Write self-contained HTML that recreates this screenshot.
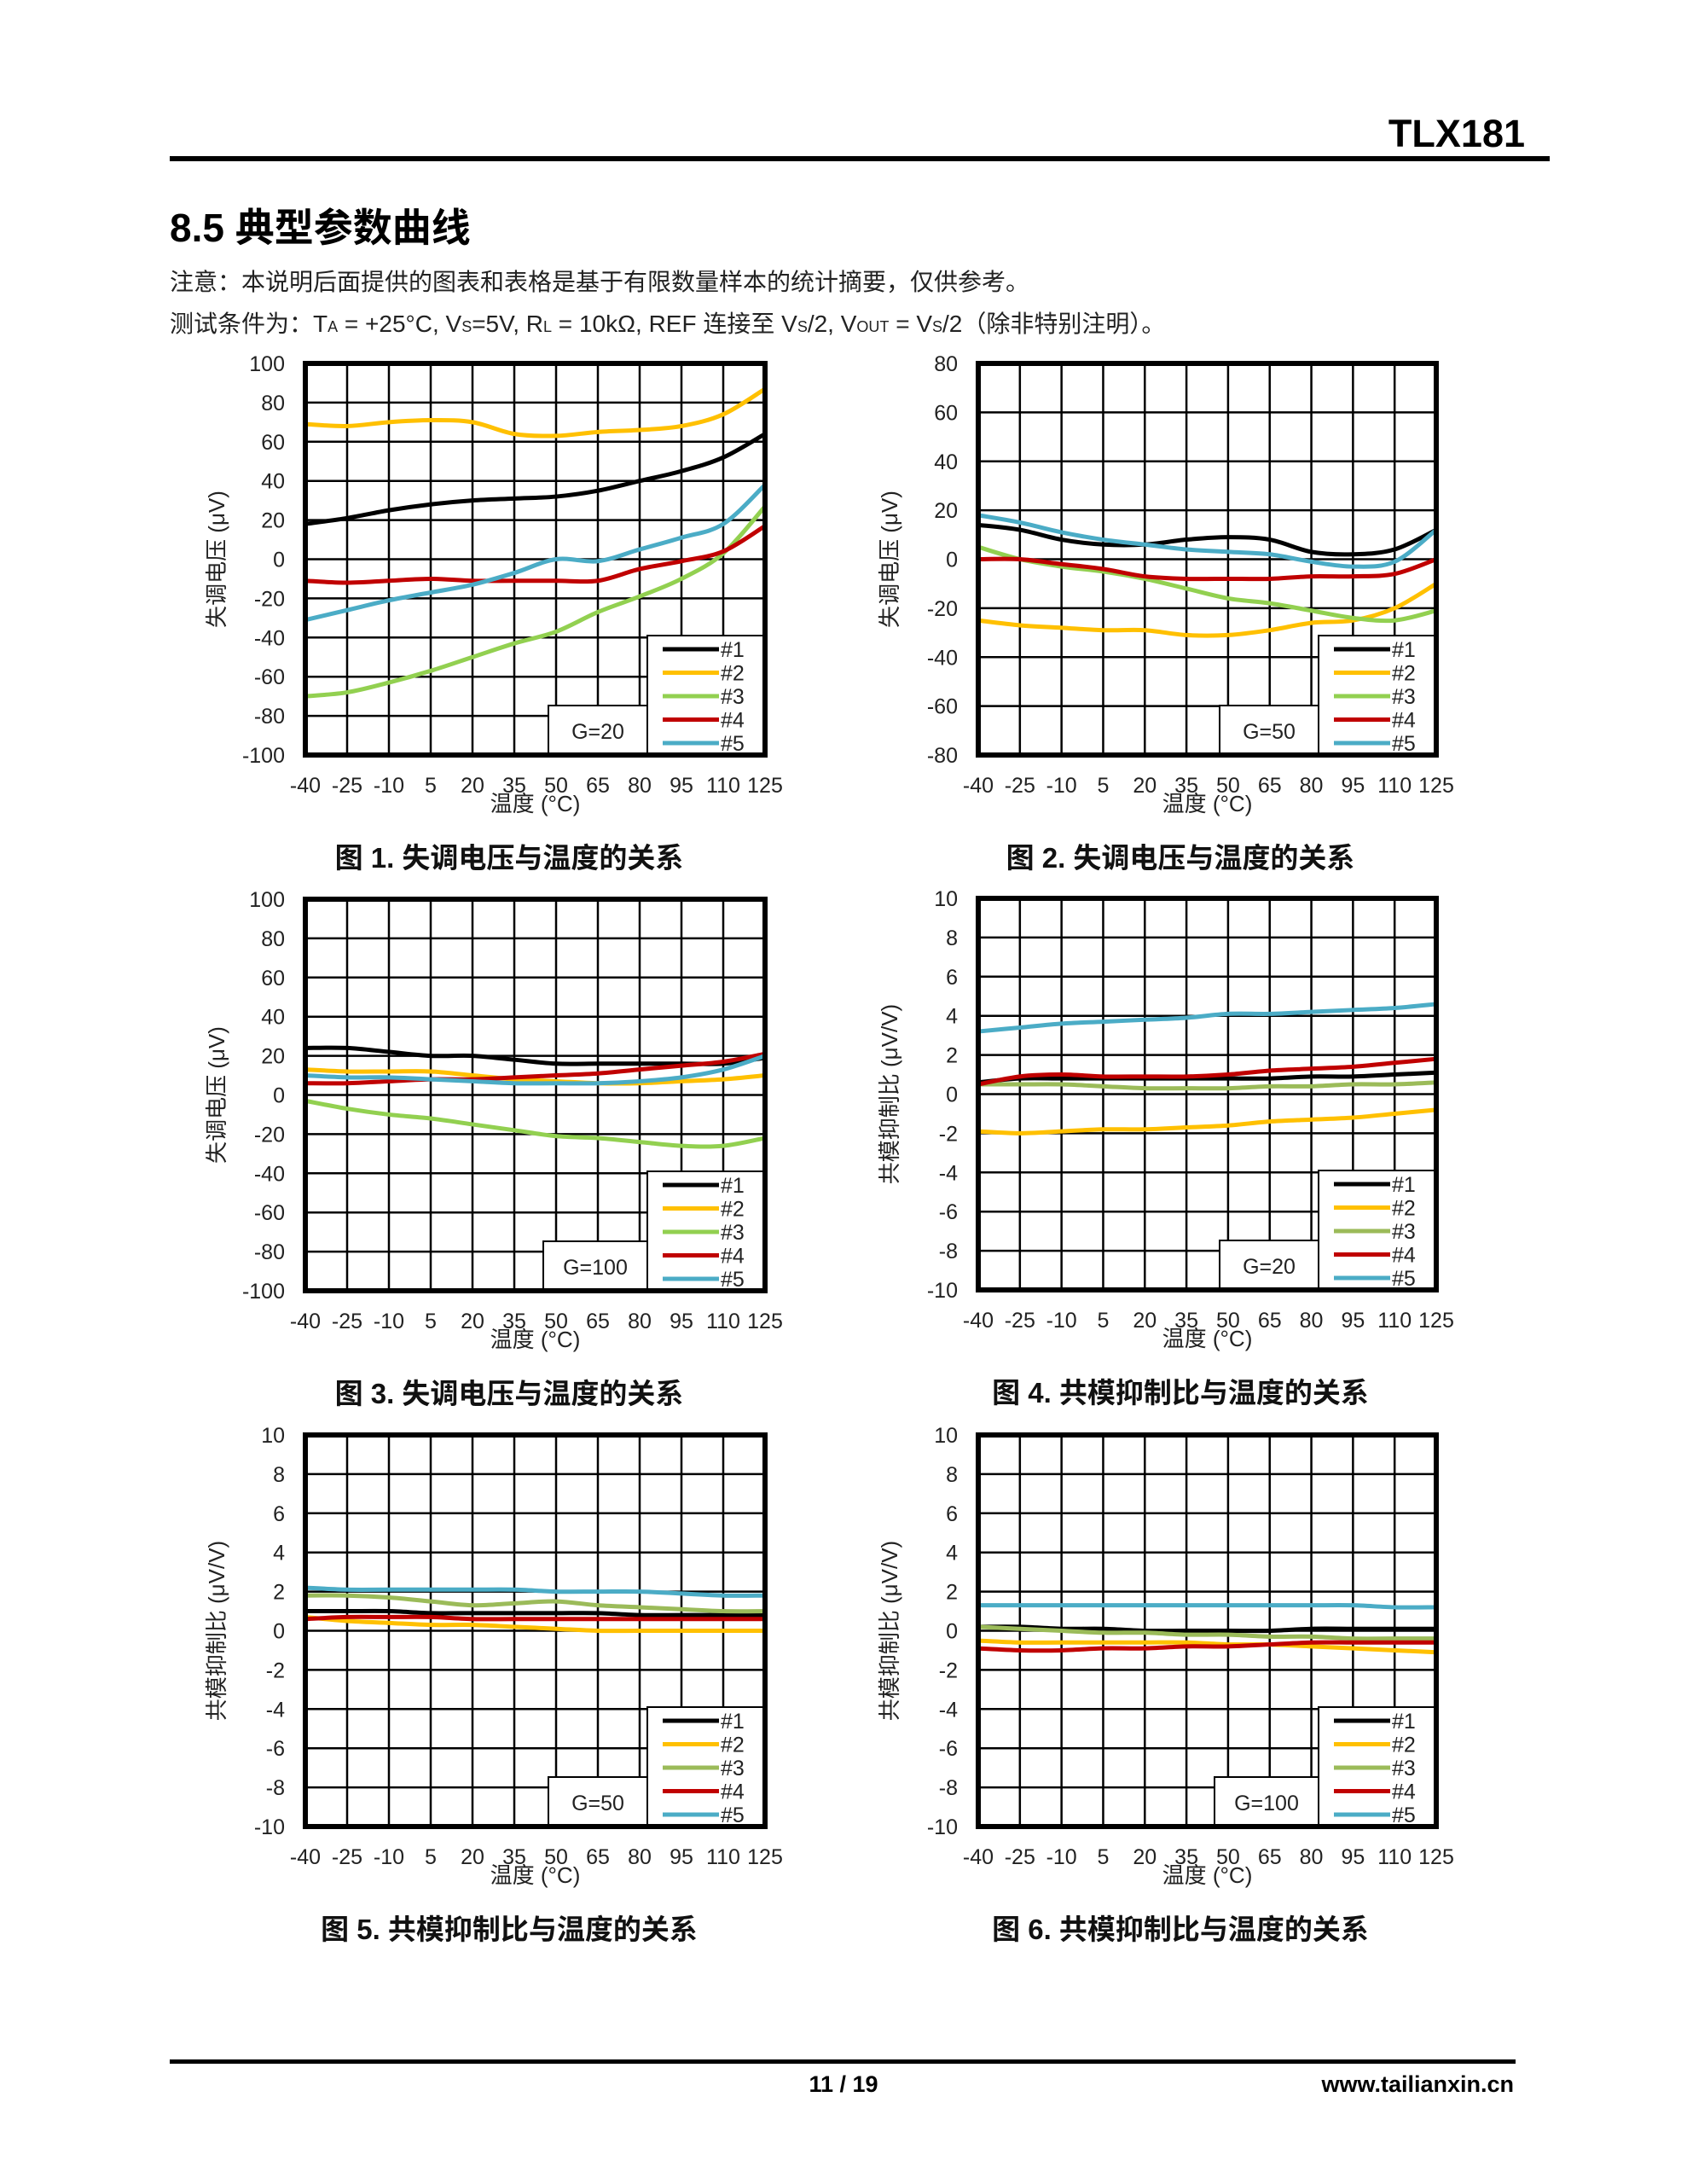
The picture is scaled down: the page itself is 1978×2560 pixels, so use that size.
<!DOCTYPE html>
<html><head><meta charset="utf-8">
<style>
html,body{margin:0;padding:0;background:#fff;}
body{width:1978px;height:2560px;overflow:hidden;position:relative;font-family:"Liberation Sans","Noto Sans CJK SC",sans-serif;}
</style></head>
<body>
<svg id="s" width="1978" height="2560" xmlns="http://www.w3.org/2000/svg" style="position:absolute;left:0;top:0;font-family:'Liberation Sans','Noto Sans CJK SC',sans-serif">
<text x="1788" y="172" text-anchor="end" font-size="45" font-weight="bold">TLX181</text>
<rect x="199" y="183" width="1618" height="6" fill="#000"/>
<text x="199" y="283" font-size="46" font-weight="bold">8.5 典型参数曲线</text>
<text x="199" y="340" font-size="28" fill="#222">注意：本说明后面提供的图表和表格是基于有限数量样本的统计摘要，仅供参考。</text>
<text x="199" y="389" font-size="28" fill="#222">测试条件为：T<tspan font-size="18">A</tspan> = +25°C, V<tspan font-size="18">S</tspan>=5V, R<tspan font-size="18">L</tspan> = 10kΩ, REF 连接至 V<tspan font-size="18">S</tspan>/2, V<tspan font-size="18">OUT</tspan> = V<tspan font-size="18">S</tspan>/2（除非特别注明）。</text>
<rect x="199" y="2414" width="1578" height="5" fill="#000"/>
<text x="989" y="2452" text-anchor="middle" font-size="27" font-weight="bold">11 / 19</text>
<text x="1775" y="2452" text-anchor="end" font-size="27" font-weight="bold">www.tailianxin.cn</text>
</svg>
<script>
var S=document.getElementById('s'),NS='http://www.w3.org/2000/svg';
function el(t,a,txt){var e=document.createElementNS(NS,t);for(var k in a)e.setAttribute(k,a[k]);if(txt!=null)e.textContent=txt;S.appendChild(e);return e;}
var C=['#000','#ffc000','#92d050','#c00000','#4bacc6'];
var C2=['#000','#ffc000','#9bbb59','#c00000','#4bacc6'];
var charts=[
{x:358,w:539,y:426,min:-100,max:100,st:20,g:'G=20',yt:'失调电压 (μV)',cap:'图 1. 失调电压与温度的关系',cx:597,col:C,d:[
[18,21,25,28,30,31,32,35,40,45,52,64],[69,68,70,71,70,64,63,65,66,68,74,87],[-70,-68,-63,-57,-50,-43,-37,-27,-19,-10,3,27],[-11,-12,-11,-10,-11,-11,-11,-11,-5,-1,4,17],[-31,-26,-21,-17,-13,-7,0,-1,5,11,18,38]]},
{x:1147,w:537,y:426,min:-80,max:80,st:20,g:'G=50',yt:'失调电压 (μV)',cap:'图 2. 失调电压与温度的关系',cx:1384,col:C,d:[
[14,12,8,6,6,8,9,8,3,2,4,12],[-25,-27,-28,-29,-29,-31,-31,-29,-26,-25,-20,-10],[5,0,-3,-5,-8,-12,-16,-18,-21,-24,-25,-21],[0,0,-2,-4,-7,-8,-8,-8,-7,-7,-6,0],[18,15,11,8,6,4,3,2,-1,-3,-1,12]]},
{x:358,w:539,y:1054,min:-100,max:100,st:20,g:'G=100',yt:'失调电压 (μV)',cap:'图 3. 失调电压与温度的关系',cx:597,col:C,d:[
[24,24,22,20,20,18,16,16,16,16,16,19],[13,12,12,12,10,8,7,6,6,7,8,10],[-3,-7,-10,-12,-15,-18,-21,-22,-24,-26,-26,-22],[6,6,7,8,8,9,10,11,13,15,17,21],[10,9,9,8,7,6,6,6,7,9,13,20]]},
{x:1147,w:537,y:1053,min:-10,max:10,st:2,g:'G=20',yt:'共模抑制比 (μV/V)',cap:'图 4. 共模抑制比与温度的关系',cx:1384,col:C2,d:[
[0.6,0.8,0.8,0.8,0.8,0.8,0.8,0.8,0.9,0.9,1,1.1],[-1.9,-2,-1.9,-1.8,-1.8,-1.7,-1.6,-1.4,-1.3,-1.2,-1,-0.8],[0.5,0.5,0.5,0.4,0.3,0.3,0.3,0.4,0.4,0.5,0.5,0.6],[0.5,0.9,1,0.9,0.9,0.9,1,1.2,1.3,1.4,1.6,1.8],[3.2,3.4,3.6,3.7,3.8,3.9,4.1,4.1,4.2,4.3,4.4,4.6]]},
{x:358,w:539,y:1682,min:-10,max:10,st:2,g:'G=50',yt:'共模抑制比 (μV/V)',cap:'图 5. 共模抑制比与温度的关系',cx:597,col:C2,d:[
[1,1,1,0.9,0.9,0.9,0.9,0.9,0.8,0.8,0.8,0.8],[0.7,0.5,0.4,0.3,0.3,0.2,0.1,0,0,0,0,0],[1.8,1.8,1.7,1.5,1.3,1.4,1.5,1.3,1.2,1.1,1,1],[0.6,0.7,0.7,0.7,0.6,0.6,0.6,0.6,0.6,0.6,0.6,0.6],[2.2,2.1,2.1,2.1,2.1,2.1,2,2,2,1.9,1.8,1.8]]},
{x:1147,w:537,y:1682,min:-10,max:10,st:2,g:'G=100',yt:'共模抑制比 (μV/V)',cap:'图 6. 共模抑制比与温度的关系',cx:1384,col:C2,d:[
[0.2,0.2,0.1,0.1,0,0,0,0,0.1,0.1,0.1,0.1],[-0.5,-0.6,-0.6,-0.6,-0.6,-0.6,-0.7,-0.7,-0.8,-0.9,-1,-1.1],[0.2,0.1,0,-0.1,-0.1,-0.2,-0.2,-0.3,-0.3,-0.4,-0.4,-0.4],[-0.9,-1,-1,-0.9,-0.9,-0.8,-0.8,-0.7,-0.6,-0.6,-0.6,-0.6],[1.3,1.3,1.3,1.3,1.3,1.3,1.3,1.3,1.3,1.3,1.2,1.2]]}
];
var H=459,xs=[-40,-25,-10,5,20,35,50,65,80,95,110,125];
charts.forEach(function(c){
 var W=c.w,L=c.x,T=c.y,R=L+W,B=T+H,n=(c.max-c.min)/c.st;
 function py(v){return B-(v-c.min)/(c.max-c.min)*H;}
 function px(i){return L+i*W/11;}
 for(var i=1;i<11;i++)el('line',{x1:px(i),y1:T,x2:px(i),y2:B,stroke:'#000','stroke-width':2.5});
 for(var j=1;j<n;j++)el('line',{x1:L,y1:T+j*H/n,x2:R,y2:T+j*H/n,stroke:'#000','stroke-width':2.5});
 for(var j=0;j<=n;j++){var v=c.max-j*c.st;el('text',{x:L-24,y:T+j*H/n+9,'text-anchor':'end','font-size':25,fill:'#222'},String(v));}
 for(var i=0;i<12;i++)el('text',{x:px(i),y:B+44,'text-anchor':'middle','font-size':25,fill:'#222'},String(xs[i]));
 el('text',{x:L+W/2,y:B+66,'text-anchor':'middle','font-size':26,fill:'#222'},'温度 (°C)');
 var yx=L-(c.yt.length>8?95:106);
 el('text',{x:yx,y:T+H/2,'text-anchor':'middle','font-size':26,fill:'#222',transform:'rotate(-90 '+yx+' '+(T+H/2)+')'},c.yt);
 el('text',{x:c.cx,y:B+132,'text-anchor':'middle','font-size':33,'font-weight':'bold',fill:'#111'},c.cap);
 c.d.forEach(function(s,k){
  var p=s.map(function(v,i){return [px(i),py(v)];});
  var d='M'+p[0][0]+','+p[0][1];
  for(var i=0;i<p.length-1;i++){var p0=p[i-1]||p[i],p1=p[i],p2=p[i+1],p3=p[i+2]||p2;
   d+=' C'+(p1[0]+(p2[0]-p0[0])/6)+','+(p1[1]+(p2[1]-p0[1])/6)+' '+(p2[0]-(p3[0]-p1[0])/6)+','+(p2[1]-(p3[1]-p1[1])/6)+' '+p2[0]+','+p2[1];}
  el('path',{d:d,fill:'none',stroke:c.col[k],'stroke-width':5,'stroke-linecap':'round'});
 });
 var lx=R-138,ly=B-140;
 var gw=c.g.length>4?122:116;
 el('rect',{x:lx-gw,y:B-58,width:gw,height:58,fill:'#fff',stroke:'#000','stroke-width':2});
 el('text',{x:lx-gw/2,y:B-19,'text-anchor':'middle','font-size':25,fill:'#222'},c.g);
 el('rect',{x:lx,y:ly,width:138,height:140,fill:'#fff',stroke:'#000','stroke-width':2});
 for(var k=0;k<5;k++){var yy=B-124+k*27.5;
  el('line',{x1:lx+18,y1:yy,x2:lx+84,y2:yy,stroke:c.col[k],'stroke-width':5});
  el('text',{x:lx+86,y:yy+9,'font-size':25,fill:'#222'},'#'+(k+1));}
 el('rect',{x:L,y:T,width:W,height:H,fill:'none',stroke:'#000','stroke-width':6});
});
</script>
</body></html>
